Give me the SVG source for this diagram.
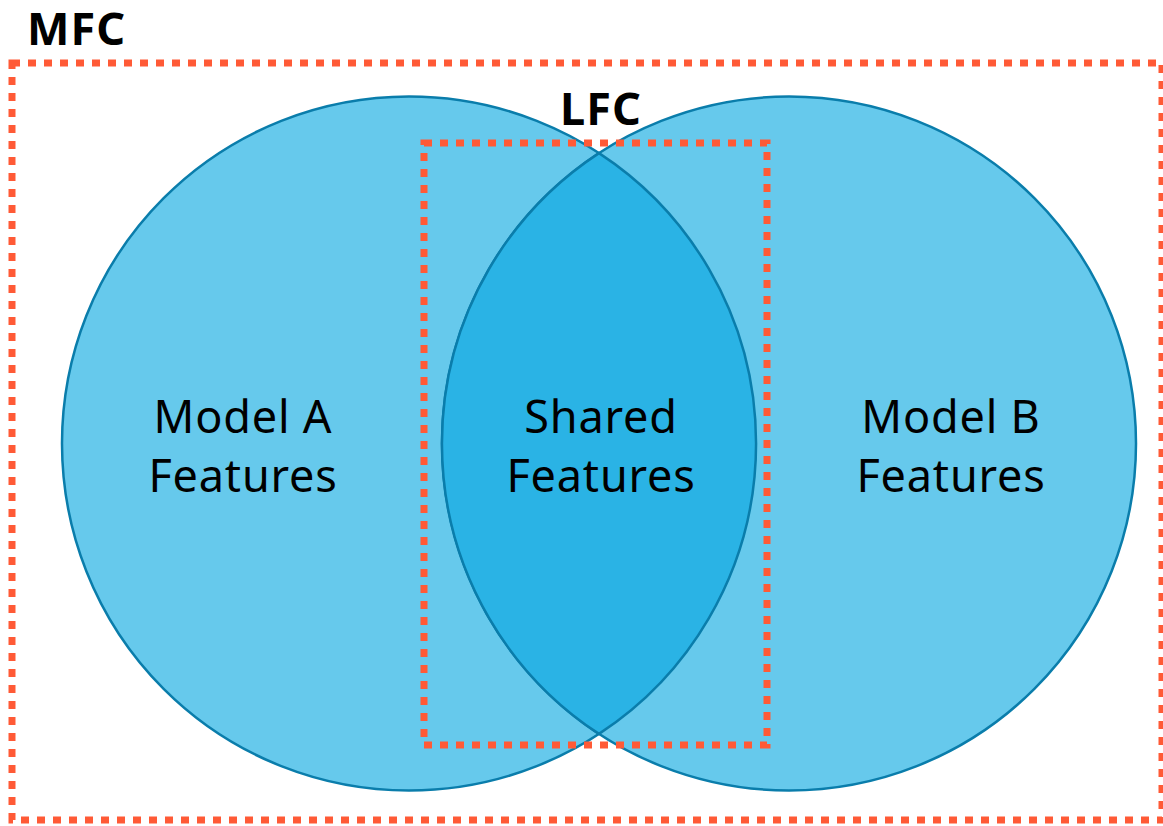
<svg xmlns="http://www.w3.org/2000/svg" width="1163" height="826" viewBox="0 0 1163 826">
  <style>
    .set { fill: #66C9EC; stroke: #0A7DAB; stroke-width: 2.5; }
    .lens { fill: #2AB3E5; stroke: none; }
    .edge { fill: none; stroke: #0A7DAB; stroke-width: 2.5; }
    .bound { fill: none; stroke: #FF5A36; stroke-width: 7; stroke-dasharray: 8 8; }
    .label { font-family: "Noto Sans", "Liberation Sans", sans-serif; font-size: 45px; fill: #000; text-anchor: middle; letter-spacing: 0.8px; }
    .title { font-family: "Noto Sans", "Liberation Sans", sans-serif; font-size: 45px; font-weight: bold; fill: #000; letter-spacing: 1px; }
  </style>

  <!-- feature sets -->
  <g id="model-a">
    <circle class="set" cx="409" cy="443.5" r="347"/>
  </g>
  <g id="model-b">
    <circle class="set" cx="789" cy="443.5" r="347"/>
  </g>
  <g id="shared">
    <path class="lens" d="M599 153.1 A347 347 0 0 1 599 733.9 A347 347 0 0 1 599 153.1 Z"/>
    <path class="edge" d="M599 153.1 A347 347 0 0 1 599 733.9 A347 347 0 0 1 599 153.1 Z"/>
  </g>

  <!-- coverage boundaries -->
  <g id="mfc">
    <rect class="bound" x="12" y="63" width="1150" height="757"/>
    <text class="title" x="27" y="45">MFC</text>
  </g>
  <g id="lfc">
    <rect class="bound" x="424" y="143" width="343" height="602"/>
    <text class="title" x="601" y="125" text-anchor="middle">LFC</text>
  </g>

  <g id="labels">
    <text class="label" x="243" y="433">Model A</text>
    <text class="label" x="243" y="492">Features</text>
    <text class="label" x="601" y="433">Shared</text>
    <text class="label" x="601" y="492">Features</text>
    <text class="label" x="951" y="433">Model B</text>
    <text class="label" x="951" y="492">Features</text>
  </g>

  <g id="connectors"></g>
</svg>
